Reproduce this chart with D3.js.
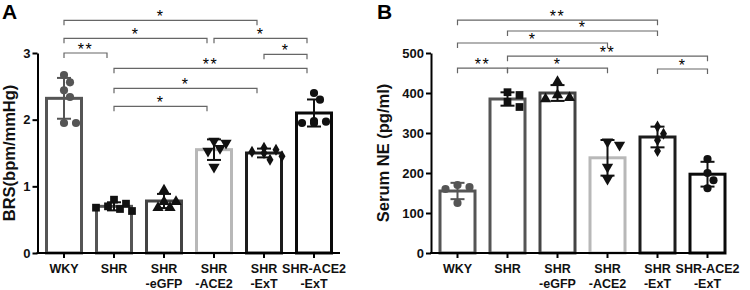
<!DOCTYPE html>
<html lang="en">
<head>
<meta charset="UTF-8">
<title>BRS and Serum NE</title>
<script src="https://d3js.org/d3.v7.min.js"></script>
<style>
  body { margin: 0; background: #fff; }
  svg { display: block; font-family: "Liberation Sans", Arial, sans-serif; }
</style>
</head>
<body>
<div id="chart"></div>
<script>
// groups and tick labels
const groups = ["WKY", "SHR", "SHR-eGFP", "SHR-ACE2", "SHR-ExT", "SHR-ACE2-ExT"];
const groupLabels = [["WKY"], ["SHR"], ["SHR", "-eGFP"], ["SHR", "-ACE2"], ["SHR", "-ExT"], ["SHR-ACE2", "-ExT"]];

// panel A: BRS (bpm/mmHg)
const brsMeans = [2.32, 0.70, 0.78, 1.55, 1.50, 2.10];
const brsPoints = [
  [2.67, 2.56, 2.44, 2.34, 1.95, 1.95],
  [0.80, 0.74, 0.70, 0.66, 0.63, 0.68],
  [0.94, 0.77, 0.77, 0.68, 0.68],
  [1.68, 1.65, 1.57, 1.53, 1.29],
  [1.58, 1.55, 1.52, 1.50, 1.45, 1.40],
  [2.40, 2.30, 1.97, 1.95, 1.95, 1.98]
];
const brsTicks = [0, 1, 2, 3];
// [from, to, level, label]
const brsSig = [
  [0, 4, 3.49, "*"],
  [0, 3, 3.22, "*"],
  [3, 5, 3.22, "*"],
  [0, 1, 3.00, "**"],
  [4, 5, 2.98, "*"],
  [1, 5, 2.77, "**"],
  [1, 4, 2.47, "*"],
  [1, 3, 2.20, "*"]
];

// panel B: Serum NE (pg/ml)
const neMeans = [155, 385, 400, 238, 290, 197];
const nePoints = [
  [170, 165, 160, 125],
  [402, 395, 378, 365],
  [428, 395, 388, 385],
  [270, 278, 215, 185],
  [298, 316, 282, 255],
  [235, 200, 182, 162]
];
const neTicks = [0, 100, 200, 300, 400, 500];
const neSig = [
  [0, 4, 582, "**"],
  [1, 4, 555, "*"],
  [0, 3, 525, "*"],
  [1, 5, 492, "**"],
  [0, 1, 462, "**"],
  [1, 3, 462, "*"],
  [4, 5, 460, "*"]
];

const barColors = ["#555", "#555", "#444", "#b8b8b8", "#1c1c1c", "#0a0a0a"];
const dotColors = ["#555", "#111", "#111", "#111", "#111", "#111"];
const shapes = [
  { type: d3.symbolCircle, size: 52, rot: 0 },
  { type: d3.symbolSquare, size: 60, rot: 0 },
  { type: d3.symbolTriangle, size: 55, rot: 0 },
  { type: d3.symbolTriangle, size: 55, rot: 180 },
  { type: d3.symbolDiamond, size: 42, rot: 0 },
  { type: d3.symbolCircle, size: 52, rot: 0 }
];

const svg = d3.select("#chart").append("svg")
  .attr("width", 750)
  .attr("height", 290);

function drawPanel(cfg) {
  const g = svg.append("g");

  const x = d3.scaleBand()
    .domain(groups)
    .range(cfg.xRange)
    .paddingInner(0.3)
    .paddingOuter(0.18);
  const y = d3.scaleLinear()
    .domain(cfg.yDomain)
    .range([253, 53]);
  const cx = i => x(groups[i]) + x.bandwidth() / 2;

  // bars
  g.selectAll(".bar")
    .data(cfg.means)
    .join("rect")
    .attr("x", (d, i) => x(groups[i]))
    .attr("y", d => y(d))
    .attr("width", x.bandwidth())
    .attr("height", d => y(0) - y(d))
    .attr("fill", "#fff")
    .attr("stroke", (d, i) => barColors[i])
    .attr("stroke-width", 3);

  // error bars (mean +/- SD)
  cfg.points.forEach((pts, i) => {
    const m = cfg.means[i];
    const sd = d3.deviation(pts);
    const c = cx(i);
    const eg = g.append("g")
      .attr("stroke", dotColors[i])
      .attr("stroke-width", 2);
    eg.append("line")
      .attr("x1", c).attr("x2", c)
      .attr("y1", y(m - sd)).attr("y2", y(m + sd));
    [m - sd, m + sd].forEach(v => {
      eg.append("line")
        .attr("x1", c - 7).attr("x2", c + 7)
        .attr("y1", y(v)).attr("y2", y(v));
    });
  });

  // points, spread sideways so they do not overlap
  cfg.points.forEach((pts, i) => {
    const c = cx(i);
    const placed = [];
    const order = pts.map((v, k) => k).sort((a, b) => pts[b] - pts[a]);
    order.forEach(k => {
      const py = y(pts[k]);
      const offs = [0, 6, -6, 12, -12, 18, -18];
      let dx = 0;
      for (const o of offs) {
        if (placed.every(p => Math.hypot(p[0] - o, p[1] - py) >= 8)) { dx = o; break; }
      }
      placed.push([dx, py]);
    });
    const sh = shapes[i];
    g.selectAll(null)
      .data(placed)
      .join("path")
      .attr("d", d3.symbol().type(sh.type).size(sh.size))
      .attr("transform", d => `translate(${c + d[0]},${d[1]}) rotate(${sh.rot})`)
      .attr("fill", dotColors[i]);
  });

  // y axis
  const ya = g.append("g")
    .attr("transform", `translate(${cfg.xRange[0]},0)`)
    .call(d3.axisLeft(y).tickValues(cfg.ticks).tickFormat(d3.format("d"))
      .tickSize(5).tickPadding(2).tickSizeOuter(0));
  ya.select(".domain").attr("stroke", "#000").attr("stroke-width", 2);
  ya.selectAll(".tick line").attr("stroke", "#000").attr("stroke-width", 2);
  ya.selectAll(".tick text")
    .attr("fill", "#111")
    .style("font-size", "13px")
    .style("font-weight", "bold")
    .style("font-family", "'Liberation Sans', Arial, sans-serif");

  // x axis
  const xa = g.append("g")
    .attr("transform", `translate(0,${y(0)})`)
    .call(d3.axisBottom(x).tickSize(5).tickSizeOuter(0).tickFormat(""));
  xa.select(".domain")
    .attr("d", `M${cfg.xRange[0] - 1},0H${cfg.axisEnd}`)
    .attr("stroke", "#000").attr("stroke-width", 2);
  xa.selectAll(".tick line").attr("stroke", "#000").attr("stroke-width", 2);

  groupLabels.forEach((lines, i) => {
    const t = g.append("text")
      .attr("text-anchor", "middle")
      .attr("fill", "#111")
      .style("font-size", "12.5px")
      .style("font-weight", "bold");
    lines.forEach((s, k) => {
      t.append("tspan")
        .attr("x", cx(i))
        .attr("y", 273 + k * 15)
        .text(s);
    });
  });

  // y title
  g.append("text")
    .attr("transform", `translate(${cfg.titleX},153) rotate(-90)`)
    .attr("text-anchor", "middle")
    .attr("fill", "#111")
    .style("font-size", "16.5px")
    .style("font-weight", "bold")
    .text(cfg.title);

  // panel letter
  g.append("text")
    .attr("x", cfg.letterX)
    .attr("y", 19)
    .attr("fill", "#000")
    .style("font-size", "21px")
    .style("font-weight", "bold")
    .text(cfg.letter);

  // significance brackets
  cfg.sig.forEach(([a, b, lvl, lab]) => {
    const x1 = cx(a);
    const x2 = cx(b) - cfg.inset;
    const yy = y(lvl);
    g.append("path")
      .attr("d", `M${x1},${yy + 5}V${yy}H${x2}V${yy + 5}`)
      .attr("fill", "none")
      .attr("stroke", "#666")
      .attr("stroke-width", 1.2);
    g.append("text")
      .attr("x", (x1 + x2) / 2)
      .attr("y", yy + 2)
      .attr("text-anchor", "middle")
      .attr("fill", "#000")
      .style("font-size", "16px")
      .style("letter-spacing", "1.5px")
      .text(lab);
  });
}

drawPanel({
  xRange: [37.5, 340.5], axisEnd: 340, yDomain: [0, 3],
  means: brsMeans, points: brsPoints, ticks: brsTicks, sig: brsSig,
  title: "BRS(bpm/mmHg)", titleX: 15, letter: "A", letterX: 2, inset: 7
});
drawPanel({
  xRange: [431, 734], axisEnd: 726, yDomain: [0, 500],
  means: neMeans, points: nePoints, ticks: neTicks, sig: neSig,
  title: "Serum NE (pg/ml)", titleX: 389, letter: "B", letterX: 377, inset: 0
});
</script>
</body>
</html>
